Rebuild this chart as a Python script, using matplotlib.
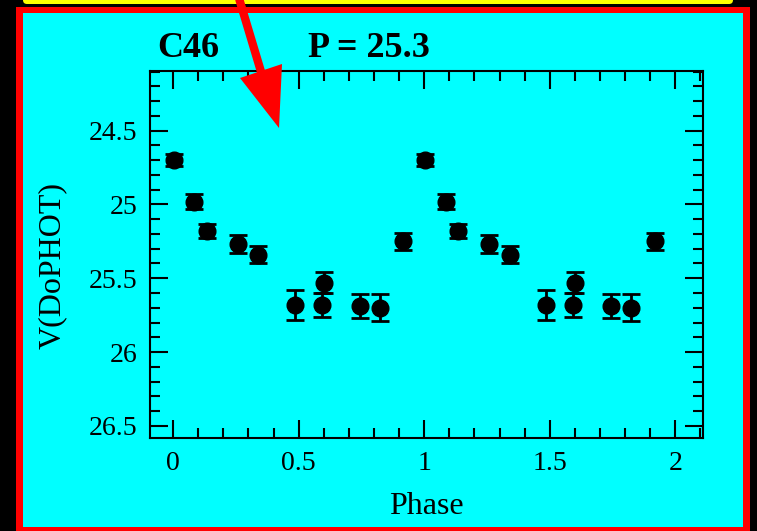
import numpy as np
import matplotlib
matplotlib.use("Agg")
import matplotlib.pyplot as plt
from matplotlib.patches import Rectangle, FancyBboxPatch, Polygon
from matplotlib.ticker import MultipleLocator, FixedLocator, FixedFormatter

# light curve of C46, folded on P = 25.3 d
star_name = "C46"
period = 25.3
phase = np.array([0.005, 0.085, 0.134, 0.258, 0.340, 0.485, 0.592, 0.602, 0.745, 0.825, 0.917])
vmag = np.array([24.70, 24.98, 25.18, 25.27, 25.34, 25.68, 25.68, 25.53, 25.69, 25.70, 25.25])
verr = np.array([0.04, 0.05, 0.05, 0.06, 0.06, 0.10, 0.08, 0.07, 0.08, 0.09, 0.06])

xticks = [0, 0.5, 1, 1.5, 2]
xtick_labels = ["0", "0.5", "1", "1.5", "2"]
yticks = [24.5, 25, 25.5, 26, 26.5]
ytick_labels = ["24.5", "25", "25.5", "26", "26.5"]

W, H = 757, 531
fig = plt.figure(figsize=(W / 100, H / 100), dpi=100, facecolor="black")

# backdrop: yellow strip, red frame, cyan panel (pixel coords)
bg = fig.add_axes([0, 0, 1, 1], zorder=0)
bg.set_xlim(0, W)
bg.set_ylim(H, 0)
bg.axis("off")
bg.add_patch(FancyBboxPatch((23, -20), 710, 24, boxstyle="round,pad=0,rounding_size=4",
                            facecolor="#ffff00", edgecolor="none"))
bg.add_patch(Rectangle((16, 7), 734, 530, facecolor="#ff0000", edgecolor="none"))
bg.add_patch(Rectangle((23, 13), 720, 514, facecolor="#00ffff", edgecolor="none"))

serif = "Liberation Serif"

ax = fig.add_axes([150 / W, 1 - 438 / H, 553 / W, 367 / H], zorder=2)
ax.set_facecolor("#00ffff")

ph2 = np.concatenate([phase, phase + 1])
v2 = np.concatenate([vmag, vmag])
e2 = np.concatenate([verr, verr])
ax.errorbar(ph2, v2, yerr=e2, fmt="o", color="black", ms=12, elinewidth=2,
            capsize=6.5, capthick=2)

ax.set_xlim(-0.092, 2.11)
ax.set_ylim(26.583, 24.095)

ax.xaxis.set_major_locator(FixedLocator(xticks))
ax.xaxis.set_major_formatter(FixedFormatter(xtick_labels))
ax.xaxis.set_minor_locator(MultipleLocator(0.1))
ax.yaxis.set_major_locator(FixedLocator(yticks))
ax.yaxis.set_major_formatter(FixedFormatter(ytick_labels))
ax.yaxis.set_minor_locator(MultipleLocator(0.1))

ax.tick_params(which="both", direction="in", top=True, right=True, width=1.5, color="black")
ax.tick_params(which="major", length=13)
ax.tick_params(which="minor", length=7)
ax.tick_params(axis="x", which="major", pad=9)
ax.tick_params(axis="y", which="major", pad=9)
for lab in ax.get_xticklabels() + ax.get_yticklabels():
    lab.set_fontfamily(serif)
    lab.set_fontsize(20)
for sp in ax.spines.values():
    sp.set_linewidth(1.5)

ax.set_xlabel("Phase", fontfamily=serif, fontsize=23, labelpad=12)
ax.set_ylabel("V(DoPHOT)", fontfamily=serif, fontsize=23)
ax.yaxis.set_label_coords(-0.15, 0.47)

fig.text(157 / W, 1 - 57 / H, star_name, fontfamily=serif, fontweight="bold",
         fontsize=26, va="baseline", ha="left")
fig.text(308 / W, 1 - 57 / H, f"P = {period}", fontfamily=serif, fontweight="bold",
         fontsize=26, va="baseline", ha="left")

# red pointer arrow on top of everything
ov = fig.add_axes([0, 0, 1, 1], zorder=5)
ov.set_xlim(0, W)
ov.set_ylim(H, 0)
ov.axis("off")
ov.patch.set_alpha(0)
ov.plot([238, 262], [-5, 75], color="#ff0000", lw=6, solid_capstyle="butt")
ov.add_patch(Polygon([[240, 78], [282, 64], [279, 128]], closed=True,
                     facecolor="#ff0000", edgecolor="none"))

fig.savefig("out.png", dpi=100, facecolor="black")
